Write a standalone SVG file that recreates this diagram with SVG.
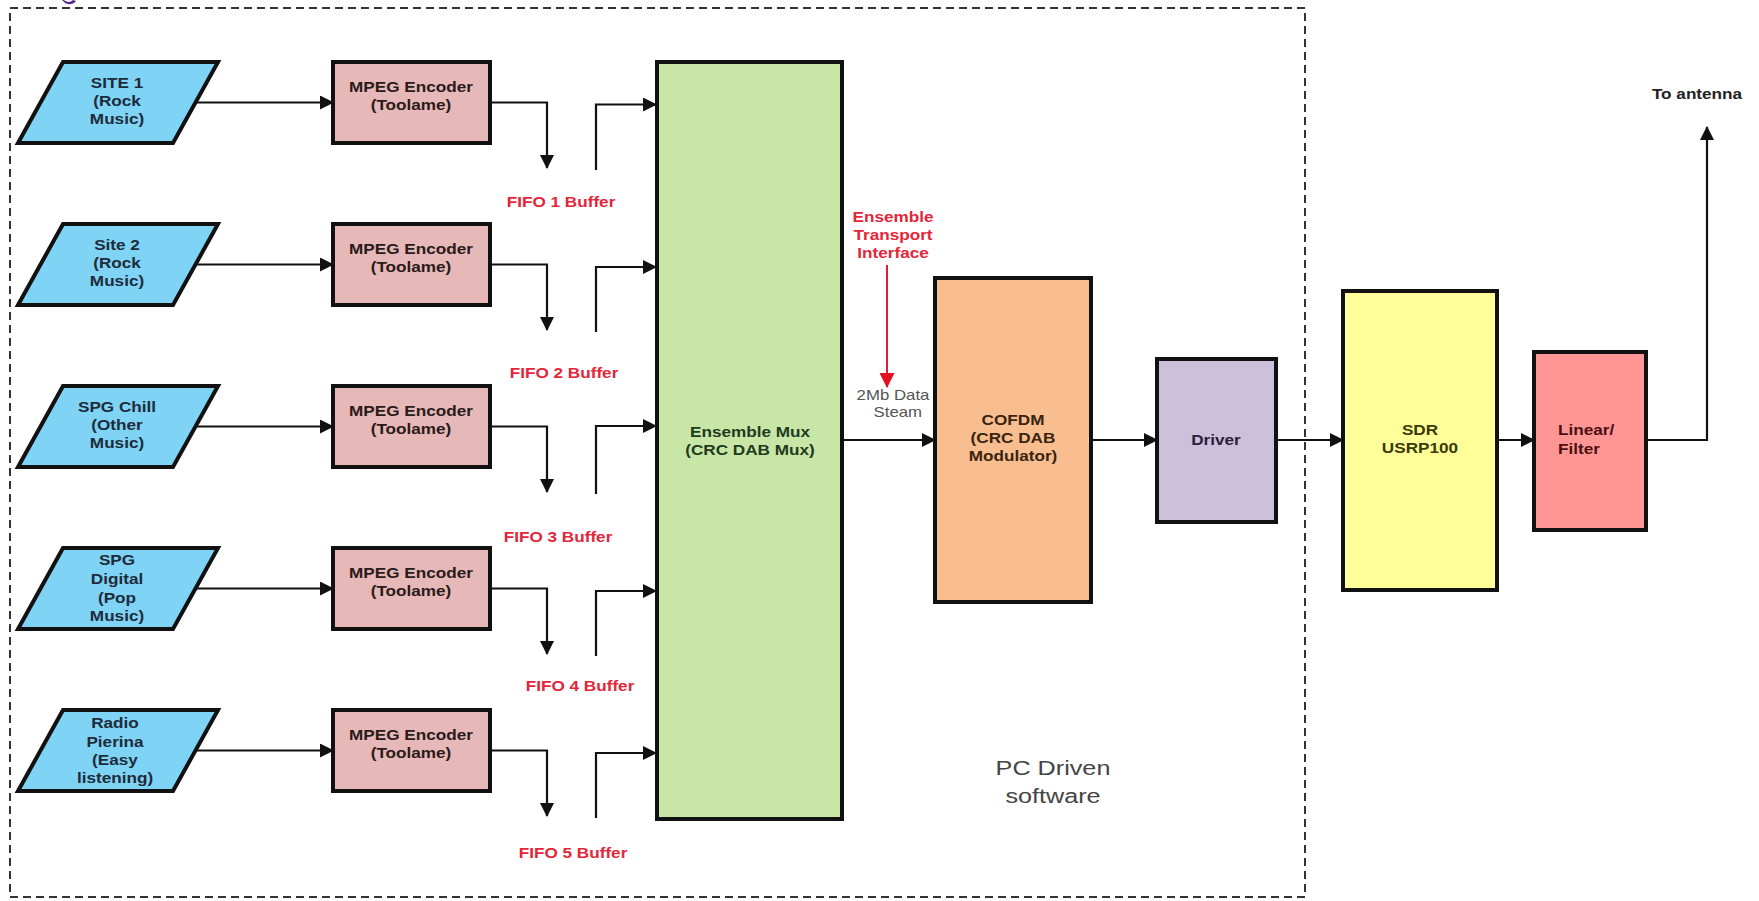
<svg xmlns="http://www.w3.org/2000/svg" width="1759" height="901" viewBox="0 0 1759 901">
<defs>
<style>
.box{stroke:#111;stroke-width:4}
.src{fill:#7fd3f5}
.mpeg{fill:#e6b9b8}
.t{font-family:"Liberation Sans",Arial,sans-serif;font-weight:bold;font-size:14.3px;text-anchor:middle}
.tl{font-family:"Liberation Sans",Arial,sans-serif;font-weight:bold;font-size:14.3px;text-anchor:start}
.reg{font-family:"Liberation Sans",Arial,sans-serif;font-weight:normal;text-anchor:middle}
.navy{fill:#1d2b3a}
.red{fill:#e3263a}
.conn{fill:none;stroke:#111;stroke-width:2.2}
.rconn{fill:none;stroke:#d9203a;stroke-width:2}
</style>
<marker id="ah" viewBox="0 0 14 14" markerWidth="14" markerHeight="14" refX="13" refY="7" orient="auto" markerUnits="userSpaceOnUse"><path d="M0,0 L14,7 L0,14 z" fill="#111"/></marker>
<marker id="ahr" viewBox="0 0 15 15" markerWidth="15" markerHeight="15" refX="14" refY="7.5" orient="auto" markerUnits="userSpaceOnUse"><path d="M0,0 L15,7.5 L0,15 z" fill="#e3101e"/></marker>
</defs>
<rect width="1759" height="901" fill="#fff"/>
<path d="M62,0 C66,5 72,6 76,1 L73,0 C70,3 66,2 64,0 z" fill="#5b2a86"/>
<rect id="pc-boundary" x="10" y="8" width="1295" height="889" fill="none" stroke="#333" stroke-width="2" stroke-dasharray="8 5"/>

<g id="connectors">
<path class="conn" d="M196,102.5 H333" marker-end="url(#ah)"/>
<path class="conn" d="M490,102.5 H547 V168" marker-end="url(#ah)"/>
<path class="conn" d="M596,170 V104.5 H656" marker-end="url(#ah)"/>
<path class="conn" d="M196,264.5 H333" marker-end="url(#ah)"/>
<path class="conn" d="M490,264.5 H547 V330" marker-end="url(#ah)"/>
<path class="conn" d="M596,332 V267 H656" marker-end="url(#ah)"/>
<path class="conn" d="M196,426.5 H333" marker-end="url(#ah)"/>
<path class="conn" d="M490,426.5 H547 V492" marker-end="url(#ah)"/>
<path class="conn" d="M596,494 V426 H656" marker-end="url(#ah)"/>
<path class="conn" d="M196,588.5 H333" marker-end="url(#ah)"/>
<path class="conn" d="M490,588.5 H547 V654" marker-end="url(#ah)"/>
<path class="conn" d="M596,656 V591 H656" marker-end="url(#ah)"/>
<path class="conn" d="M196,750.5 H333" marker-end="url(#ah)"/>
<path class="conn" d="M490,750.5 H547 V816" marker-end="url(#ah)"/>
<path class="conn" d="M596,818 V753 H656" marker-end="url(#ah)"/>
<path class="rconn" d="M887,265 V387" marker-end="url(#ahr)"/>
<path class="conn" d="M842,440 H935" marker-end="url(#ah)"/>
<path class="conn" d="M1091,440 H1157" marker-end="url(#ah)"/>
<path class="conn" d="M1276,440 H1343" marker-end="url(#ah)"/>
<path class="conn" d="M1497,440 H1534" marker-end="url(#ah)"/>
<path class="conn" d="M1646,440 H1707 V127" marker-end="url(#ah)"/>
</g>

<g id="src1">
<polygon class="box src" points="63,62 218,62 173,143 18,143"/>
<text class="t navy" transform="translate(117,0) scale(1.2,1)"><tspan x="0" y="88.5">SITE 1</tspan><tspan x="0" y="106.5">(Rock</tspan><tspan x="0" y="124.5">Music)</tspan></text>
</g>
<g id="src2">
<polygon class="box src" points="63,224 218,224 173,305 18,305"/>
<text class="t navy" transform="translate(117,0) scale(1.2,1)"><tspan x="0" y="250.5">Site 2</tspan><tspan x="0" y="268.5">(Rock</tspan><tspan x="0" y="286.5">Music)</tspan></text>
</g>
<g id="src3">
<polygon class="box src" points="63,386 218,386 173,467 18,467"/>
<text class="t navy" transform="translate(117,0) scale(1.2,1)"><tspan x="0" y="412.5">SPG Chill</tspan><tspan x="0" y="430.5">(Other</tspan><tspan x="0" y="448.5">Music)</tspan></text>
</g>
<g id="src4">
<polygon class="box src" points="63,548 218,548 173,629 18,629"/>
<text class="t navy" transform="translate(117,0) scale(1.2,1)"><tspan x="0" y="565">SPG</tspan><tspan x="0" y="584">Digital</tspan><tspan x="0" y="603">(Pop</tspan><tspan x="0" y="621">Music)</tspan></text>
</g>
<g id="src5">
<polygon class="box src" points="63,710 218,710 173,791 18,791"/>
<text class="t navy" transform="translate(115,0) scale(1.2,1)"><tspan x="0" y="728">Radio</tspan><tspan x="0" y="747">Pierina</tspan><tspan x="0" y="765">(Easy</tspan><tspan x="0" y="783">listening)</tspan></text>
</g>

<g id="mpeg1">
<rect class="box mpeg" x="333" y="62" width="157" height="81"/>
<text class="t" fill="#2b1a1a" transform="translate(411,0) scale(1.2,1)"><tspan x="0" y="92">MPEG Encoder</tspan><tspan x="0" y="110">(Toolame)</tspan></text>
</g>
<g id="mpeg2">
<rect class="box mpeg" x="333" y="224" width="157" height="81"/>
<text class="t" fill="#2b1a1a" transform="translate(411,0) scale(1.2,1)"><tspan x="0" y="254">MPEG Encoder</tspan><tspan x="0" y="272">(Toolame)</tspan></text>
</g>
<g id="mpeg3">
<rect class="box mpeg" x="333" y="386" width="157" height="81"/>
<text class="t" fill="#2b1a1a" transform="translate(411,0) scale(1.2,1)"><tspan x="0" y="416">MPEG Encoder</tspan><tspan x="0" y="434">(Toolame)</tspan></text>
</g>
<g id="mpeg4">
<rect class="box mpeg" x="333" y="548" width="157" height="81"/>
<text class="t" fill="#2b1a1a" transform="translate(411,0) scale(1.2,1)"><tspan x="0" y="578">MPEG Encoder</tspan><tspan x="0" y="596">(Toolame)</tspan></text>
</g>
<g id="mpeg5">
<rect class="box mpeg" x="333" y="710" width="157" height="81"/>
<text class="t" fill="#2b1a1a" transform="translate(411,0) scale(1.2,1)"><tspan x="0" y="740">MPEG Encoder</tspan><tspan x="0" y="758">(Toolame)</tspan></text>
</g>

<g id="fifo-labels">
<text class="t red" transform="translate(561,0) scale(1.2,1)" x="0" y="207">FIFO 1 Buffer</text>
<text class="t red" transform="translate(564,0) scale(1.2,1)" x="0" y="378">FIFO 2 Buffer</text>
<text class="t red" transform="translate(558,0) scale(1.2,1)" x="0" y="542">FIFO 3 Buffer</text>
<text class="t red" transform="translate(580,0) scale(1.2,1)" x="0" y="691">FIFO 4 Buffer</text>
<text class="t red" transform="translate(573,0) scale(1.2,1)" x="0" y="858">FIFO 5 Buffer</text>
</g>

<g id="ensemble-mux">
<rect class="box" fill="#c8e6a6" x="657" y="62" width="185" height="757"/>
<text class="t" fill="#1f3a1f" transform="translate(750,0) scale(1.2,1)"><tspan x="0" y="437">Ensemble Mux</tspan><tspan x="0" y="455">(CRC DAB Mux)</tspan></text>
</g>

<g id="eti-label">
<text class="t red" transform="translate(893,0) scale(1.2,1)"><tspan x="0" y="222">Ensemble</tspan><tspan x="0" y="240">Transport</tspan><tspan x="0" y="258">Interface</tspan></text>
</g>
<g id="stream-label">
<text class="reg" font-size="14" fill="#555" transform="translate(893,0) scale(1.2,1)"><tspan x="0" y="400">2Mb Data</tspan><tspan x="4" y="417">Steam</tspan></text>
</g>

<g id="cofdm">
<rect class="box" fill="#f9be8f" x="935" y="278" width="156" height="324"/>
<text class="t" fill="#3a2410" transform="translate(1013,0) scale(1.2,1)"><tspan x="0" y="425">COFDM</tspan><tspan x="0" y="443">(CRC DAB</tspan><tspan x="0" y="461">Modulator)</tspan></text>
</g>

<g id="driver">
<rect class="box" fill="#ccc0da" x="1157" y="359" width="119" height="163"/>
<text class="t" fill="#2a2040" transform="translate(1216,0) scale(1.2,1)" x="0" y="445">Driver</text>
</g>

<g id="pc-label">
<text class="reg" font-size="21" fill="#444" transform="translate(1053,0) scale(1.2,1)"><tspan x="0" y="775">PC Driven</tspan><tspan x="0" y="803">software</tspan></text>
</g>

<g id="sdr">
<rect class="box" fill="#ffff99" x="1343" y="291" width="154" height="299"/>
<text class="t" fill="#3a3a08" transform="translate(1420,0) scale(1.2,1)"><tspan x="0" y="435">SDR</tspan><tspan x="0" y="453">USRP100</tspan></text>
</g>

<g id="linear-filter">
<rect class="box" fill="#ff9595" x="1534" y="352" width="112" height="178"/>
<text class="tl" fill="#4a0f0f" transform="translate(1558,0) scale(1.2,1)"><tspan x="0" y="435">Linear/</tspan><tspan x="0" y="454">Filter</tspan></text>
</g>

<g id="antenna-label">
<text class="t" fill="#222" font-size="14.5" transform="translate(1697,0) scale(1.2,1)" x="0" y="99">To antenna</text>
</g>
</svg>
